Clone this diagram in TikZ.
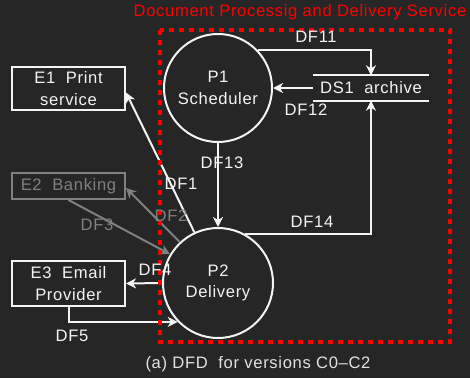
\documentclass[tikz,border=0pt]{standalone}
\usepackage{fontspec}
\setmainfont{Liberation Sans}[LetterSpace=4]
\usetikzlibrary{arrows.meta}
\definecolor{bg}{HTML}{262626}
\definecolor{fg}{HTML}{F4F4F4}
\definecolor{dim}{HTML}{808080}
\definecolor{boundary}{HTML}{FF0000}
\definecolor{capt}{HTML}{E2E2E2}
\begin{document}
\begin{tikzpicture}[x=1pt,y=-1pt,
  font=\fontsize{16.6}{21.5}\selectfont,
  proc/.style={circle, draw=fg, line width=2pt, minimum size=108pt, inner sep=0pt, align=center, text=fg},
  ext/.style={rectangle, draw=fg, line width=2pt, minimum width=113pt, inner sep=0pt, align=center, text=fg},
  flow/.style={draw=fg, line width=2pt, -{Stealth[length=10pt,width=10pt,inset=3pt]}},
  dimflow/.style={flow, draw=dim, -{Stealth[length=10pt,width=10pt,inset=3pt]}},
  lbl/.style={text=fg, inner sep=0pt},
  dimlbl/.style={text=dim, inner sep=0pt}]
  % canvas
  \fill[bg] (0,0) rectangle (470,378);
  \useasboundingbox (0,0) rectangle (470,378);

  % processes
  \node[proc] (P1) at (218,88) {P1\\Scheduler};
  \node[proc, minimum size=110pt] (P2) at (218,283) {P2\\Delivery};

  % external entities
  \node[ext, minimum height=43pt] (E1) at (68.5,88.5) {E1~~Print\\service};
  \node[ext, minimum height=26pt, draw=dim, text=dim] (E2) at (68.5,186) {E2~~Banking};
  \node[ext, minimum height=45pt] (E3) at (68.5,283.5) {E3~~Email\\Provider};

  % data store
  \node[text=fg, minimum width=116pt, minimum height=25pt, inner sep=0pt] (ds) at (371,88) {DS1~~archive};
  \draw[fg, line width=2pt] (ds.north west) -- (ds.north east);
  \draw[fg, line width=2pt] (ds.south west) -- (ds.south east);

  % data flows
  \draw[flow] (P1.43) -| (ds.north);
  \draw[flow] (ds.west) -- (P1.east);
  \draw[flow] (P1.south) -- (P2.north);
  \draw[flow] (P2.61) -| (ds.south);
  \draw[flow] (P2.115) -- ([yshift=-4pt]E1.east);
  \draw[dimflow] (P2.133) -- ([yshift=-2pt]E2.east);
  \draw[dimflow] (E2.south) -- (P2.149);
  \draw[flow] (P2.west) -- (E3.east);
  \draw[flow] (E3.south) |- (P2.224);

  % system boundary
  \draw[boundary, line width=4pt, dash pattern=on 5pt off 5pt] (160,30) rectangle (450,342);
  \node[text=boundary, inner sep=0pt] (title) at (300,12) {Document Processig and Delivery Service};

  % flow labels
  \node[lbl] (l11) at (316,37) {DF11};
  \node[lbl] (l12) at (306,110) {DF12};
  \node[lbl] (l13) at (222,163) {DF13};
  \node[lbl] (l14) at (312,222) {DF14};
  \node[lbl] (l1) at (181,184) {DF1};
  \node[dimlbl] (l2) at (171,216) {DF2};
  \node[dimlbl] (l3) at (97,225) {DF3};
  \node[lbl] (l4) at (155,270) {DF4};
  \node[lbl] (l5) at (72,336) {DF5};

  % caption
  \node[text=capt, inner sep=0pt] (cap) at (258,364) {(a) DFD~~for versions C0–C2};
\end{tikzpicture}
\end{document}
